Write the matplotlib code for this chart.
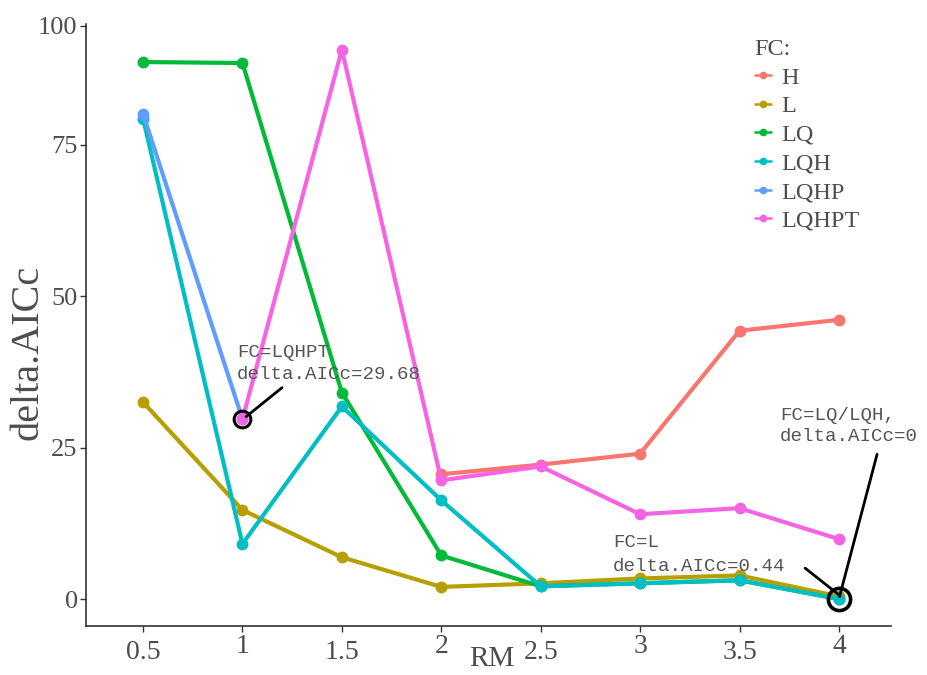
import numpy as np
import matplotlib
matplotlib.use("Agg")
import matplotlib.pyplot as plt
from matplotlib.transforms import ScaledTranslation

# ---------------- data ----------------
rm = [0.5, 1.0, 1.5, 2.0, 2.5, 3.0, 3.5, 4.0]
fc_levels = ["H", "L", "LQ", "LQH", "LQHP", "LQHPT"]
colors = ["#F8766D", "#B79F00", "#00BA38", "#00BFC4", "#619CFF", "#F564E3"]

rm_H = [2.0, 2.5, 3.0, 3.5, 4.0]
aicc_H = [20.6, 22.2, 24.0, 44.3, 46.1]
rm_L = rm
aicc_L = [32.5, 14.7, 6.9, 2.0, 2.6, 3.4, 3.9, 0.44]
rm_LQ = rm
aicc_LQ = [92.4, 92.2, 34.1, 7.2, 2.1, 2.6, 3.1, 0.0]
rm_LQH = rm
aicc_LQH = [80.5, 9.1, 31.8, 16.3, 2.1, 2.6, 3.1, 0.0]
rm_LQHP = [0.5, 1.0]
aicc_LQHP = [81.5, 29.7]
rm_LQHPT = [1.0, 1.5, 2.0, 2.5, 3.0, 3.5, 4.0]
aicc_LQHPT = [29.68, 95.0, 19.6, 21.9, 14.0, 15.0, 9.9]

series_x = [rm_H, rm_L, rm_LQ, rm_LQH, rm_LQHP, rm_LQHPT]
series_y = [aicc_H, aicc_L, aicc_LQ, aicc_LQH, aicc_LQHP, aicc_LQHPT]

xticks = [0.5, 1, 1.5, 2, 2.5, 3, 3.5, 4]
xtick_labels = ["0.5", "1", "1.5", "2", "2.5", "3", "3.5", "4"]
yticks = [0, 25, 50, 75, 100]
ytick_labels = ["0", "25", "50", "75", "100"]

# highlighted points and annotation texts
hl_points_x = [1.0, 4.0]
hl_points_y = [29.68, 0.0]
ann_texts = [("FC=LQHPT", "delta.AICc=29.68"),
             ("FC=L", "delta.AICc=0.44"),
             ("FC=LQ/LQH,", "delta.AICc=0")]

# ---------------- styling ----------------
TXT = "#4D4D4D"
serif = ["Liberation Serif", "DejaVu Serif"]
mono = ["Liberation Mono", "DejaVu Sans Mono"]

# axis above 75 is compressed in the reference
K = 0.785
def fwd(y):
    y = np.asarray(y, dtype=float)
    return np.where(y <= 75, y, 75 + (y - 75) * K)
def inv(y):
    y = np.asarray(y, dtype=float)
    return np.where(y <= 75, y, 75 + (y - 75) / K)

fig = plt.figure(figsize=(9.27, 6.75), dpi=100)
ax = fig.add_axes([86/927, 1 - 626/675, (891-86)/927, (626-24)/675])
ax.set_yscale("function", functions=(fwd, inv))

for xs, ys, c, name in zip(series_x, series_y, colors, fc_levels):
    ax.plot(xs, ys, color=c, lw=3.0, marker="o", ms=7.5, label=name,
            solid_capstyle="butt", zorder=3)

ax.set_xlim(0.213, 4.262)
ax.set_ylim(-4.45, 100.4)

ax.set_xticks(xticks)
ax.set_xticklabels(xtick_labels)
ax.set_yticks(yticks)
ax.set_yticklabels(ytick_labels)
ax.yaxis.set_minor_locator(matplotlib.ticker.NullLocator())

for s in ["top", "right"]:
    ax.spines[s].set_visible(False)
for s in ["left", "bottom"]:
    ax.spines[s].set_color("#222222")
    ax.spines[s].set_linewidth(1.1)

ax.tick_params(axis="both", direction="out", length=4.5, width=1.0,
               color="#333333", labelcolor=TXT)
ax.tick_params(axis="x", pad=1.0)
ax.tick_params(axis="y", pad=1.5)
for lab in ax.get_xticklabels():
    lab.set_fontfamily(serif)
    lab.set_fontsize(20)
for lab in ax.get_yticklabels():
    lab.set_fontfamily(serif)
    lab.set_fontsize(19)

# staggered x tick labels: half values sit lower
for lab, v in zip(ax.get_xticklabels(), xticks):
    if v != int(v):
        lab.set_transform(lab.get_transform() + ScaledTranslation(0, -6/100, fig.dpi_scale_trans))

ax.set_xlabel("RM", fontfamily=serif, fontsize=21, color=TXT)
ax.xaxis.set_label_coords(0.504, -0.055)
ax.xaxis.label.set_va("center")
ax.set_ylabel("delta.AICc", fontfamily=serif, fontsize=29, color=TXT)
ax.yaxis.set_label_coords(-0.072, 0.455)
ax.yaxis.label.set_va("center")

# highlight circles
ax.plot(hl_points_x[0], hl_points_y[0], marker="o", ms=12, mfc="none", mec="black", mew=2.2, zorder=5)
ax.plot(hl_points_x[1], hl_points_y[1], marker="o", ms=16, mfc="none", mec="black", mew=2.6, zorder=5)

# annotation texts
afs = 13.8
ann_pos = [(0.973, 40.7, 37.1), (2.864, 9.4, 5.3), (3.704, 30.3, 26.9)]
for (l1, l2), (x0, y1, y2) in zip(ann_texts, ann_pos):
    ax.text(x0, y1, l1, fontfamily=mono, fontsize=afs, color="#555555", va="center", ha="left")
    ax.text(x0, y2, l2, fontfamily=mono, fontsize=afs, color="#555555", va="center", ha="left")

# connector lines
segs = [((1.199, 34.9), (1.018, 30.1)),
        ((3.83, 5.1), (3.996, 0.8)),
        ((4.192, 23.9), (4.003, 0.4))]
for (xa, ya), (xb, yb) in segs:
    ax.annotate("", xy=(xb, yb), xytext=(xa, ya),
                arrowprops=dict(arrowstyle="-", color="black", lw=2.0, shrinkA=0, shrinkB=0))

leg = ax.legend(title="FC:", loc="upper left", bbox_to_anchor=(0.815, 0.995),
                frameon=False, prop={"family": serif, "size": 17.5},
                handlelength=0.75, handletextpad=0.35, labelspacing=0.27,
                borderpad=0, alignment="left", markerscale=0.6)
leg.get_title().set_fontfamily(serif)
leg.get_title().set_fontsize(17.5)
leg.get_title().set_color(TXT)
for t in leg.get_texts():
    t.set_color(TXT)
for h in leg.legend_handles:
    h.set_linewidth(1.8)

fig.savefig("out.png", dpi=100, facecolor="white")
